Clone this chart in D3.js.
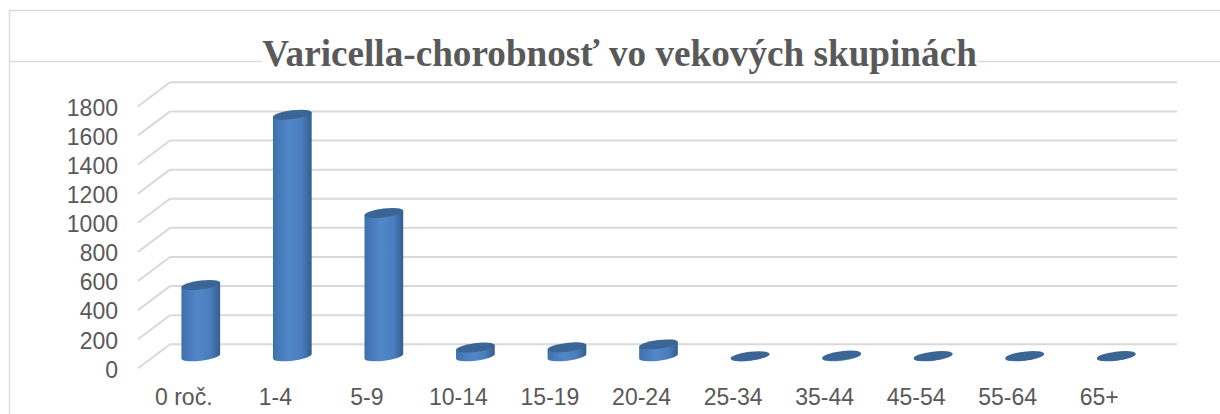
<!DOCTYPE html>
<html>
<head>
<meta charset="utf-8">
<script src="https://cdn.jsdelivr.net/npm/d3@7"></script>
<style>
body {margin: 0; background: #fff;}
svg {display: block;}
</style>
</head>
<body>
<div id="viz"></div>
<script>
// values
const categories = ["0 roč.", "1-4", "5-9", "10-14", "15-19", "20-24", "25-34", "35-44", "45-54", "55-64", "65+"]
const cases = [490, 1660, 985, 60, 62, 82, 1, 5, 2, 2, 2]
const yTicks = [0, 200, 400, 600, 800, 1000, 1200, 1400, 1600, 1800]
const title = "Varicella-chorobnosť vo vekových skupinách"

const width = 1220
const height = 414

// floor of the fake 3d box: front edge is shifted from the back wall by depth
const depth = {x: -32, y: 24}
const back = {left: 170, right: 1177, top: 82.3, bottom: 344.3}

// cylinder shape
const rx = 19.5
const ry = 4.4
const tilt = 7 * Math.PI / 180

const svg = d3.select("#viz")
        .append("svg")
        .attr("width", width)
        .attr("height", height)

const x = d3.scaleBand()
            .domain(categories)
            .range([back.left + depth.x, back.right + depth.x])

const y = d3.scaleLinear()
            .domain([0, 1800])
            .range([back.bottom, back.top])

// horizontal gradient of the cylinders
const grad = svg.append("defs").append("linearGradient")
        .attr("id", "cyl")
grad.selectAll("stop")
    .data([[0, "#3c70ab"], [0.15, "#4779b8"], [0.42, "#5187c9"], [0.75, "#4a7dbc"], [1, "#335f90"]])
    .enter()
    .append("stop")
    .attr("offset", d => d[0])
    .attr("stop-color", d => d[1])

// outer frame, only top and left are visible
const frame = svg.append("g")
        .attr("stroke", "#dcdcdc")
        .attr("stroke-width", 1.5)
frame.append("line").attr("x1", 9).attr("x2", width).attr("y1", 10.5).attr("y2", 10.5)
frame.append("line").attr("x1", 9.5).attr("x2", 9.5).attr("y1", 10).attr("y2", height)
frame.append("line").attr("x1", 9).attr("x2", width).attr("y1", 61.5).attr("y2", 61.5)

// back wall gridlines
svg.append("g")
    .selectAll("line")
    .data(yTicks)
    .enter()
    .append("line")
    .attr("x1", back.left)
    .attr("x2", back.right)
    .attr("y1", d => y(d))
    .attr("y2", d => y(d))
    .attr("stroke", "#d9d9d9")
    .attr("stroke-width", 2)

// side wall gridlines
svg.append("g")
    .selectAll("line")
    .data(yTicks)
    .enter()
    .append("line")
    .attr("x1", back.left)
    .attr("x2", back.left + depth.x)
    .attr("y1", d => y(d))
    .attr("y2", d => y(d) + depth.y)
    .attr("stroke", "#d9d9d9")
    .attr("stroke-width", 2)

// y axis sits on the front edge of the side wall
const yAxis = svg.append("g")
        .attr("transform", "translate(" + (back.left + depth.x) + "," + (depth.y + 1.5) + ")")
        .call(d3.axisLeft(y).tickValues(yTicks).tickFormat(d3.format("d")).tickSize(0).tickPadding(20))
yAxis.select(".domain").remove()
yAxis.selectAll("text")
    .style("font", "23px 'Liberation Sans'")
    .attr("fill", "#595959")

// x axis labels
const xAxis = svg.append("g")
        .attr("transform", "translate(0,388.5)")
        .call(d3.axisBottom(x).tickSize(0).tickPadding(0))
xAxis.select(".domain").remove()
xAxis.selectAll("text")
    .style("font", "23px 'Liberation Sans'")
    .attr("fill", "#595959")

// cylinders stand in the middle of the floor depth
const dx = rx * Math.cos(tilt)
const dy = rx * Math.sin(tilt)
const tiltDeg = -tilt * 180 / Math.PI

function centerX(d) {return x(d) + x.bandwidth() / 2 - depth.x / 2 + 1}
const shift = depth.y / 2

const rows = categories.map(function(c, i) {return {cat: c, value: cases[i]}})

const bars = svg.append("g")
        .selectAll("g")
        .data(rows)
        .enter()
        .append("g")

bars.append("path")
    .attr("fill", "url(#cyl)")
    .attr("d", function(d) {
        const cx = centerX(d.cat)
        const top = y(d.value) + shift
        const base = y(0) + shift
        return "M" + (cx - dx) + "," + (top + dy)
            + "L" + (cx - dx) + "," + (base + dy)
            + "A" + rx + "," + ry + " " + tiltDeg + " 0 0 " + (cx + dx) + "," + (base - dy)
            + "L" + (cx + dx) + "," + (top - dy) + "Z"
    })

bars.append("ellipse")
    .attr("rx", rx)
    .attr("ry", ry)
    .attr("fill", "#3b6595")
    .attr("transform", d => "translate(" + centerX(d.cat) + "," + (y(d.value) + shift) + ")rotate(" + tiltDeg + ")")

// title, white box behind it hides the line
const titleBox = svg.append("rect").attr("fill", "#fff")
const titleText = svg.append("text")
        .attr("x", 619.5)
        .attr("y", 66)
        .attr("text-anchor", "middle")
        .attr("fill", "#595959")
        .style("font", "bold 37.2px 'Liberation Serif'")
        .text(title)
const bb = titleText.node().getBBox()
titleBox.attr("x", bb.x).attr("y", bb.y).attr("width", bb.width).attr("height", bb.height)
</script>
</body>
</html>
